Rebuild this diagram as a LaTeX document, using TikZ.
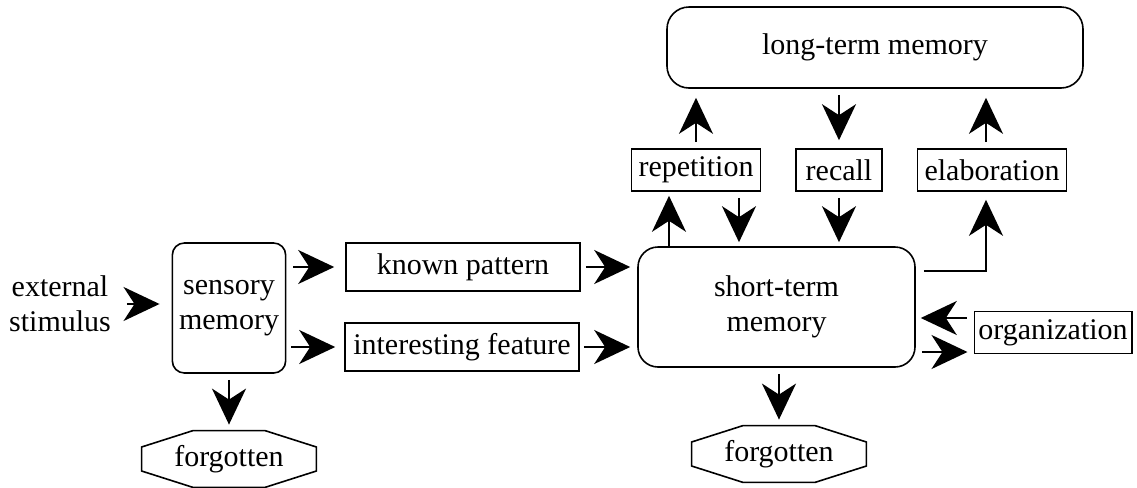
\documentclass[tikz,border=0pt]{standalone}
\usepackage{fontspec}
\setmainfont{Liberation Serif}
\usetikzlibrary{positioning,calc,arrows.meta}

\tikzset{
  every node/.style={font=\fontsize{15}{17.5}\selectfont},
  plain/.style={draw=black, line width=0.8pt, minimum height=21pt, inner xsep=3.5pt},
  roundbox/.style={draw=black, line width=0.8pt, rounded corners=6pt, align=center},
  forgot/.style={minimum width=87pt, minimum height=28pt, inner sep=0pt},
  flow/.style={-{Stealth[length=18pt,width=17pt,inset=5.5pt]}, line width=1pt, shorten <=3pt, shorten >=3pt},
}

% octagon drawn round a forgot node
\newcommand\forgotshape[1]{%
  \draw[line width=0.8pt] ([xshift=-18pt]#1.north) -- ([xshift=18pt]#1.north)
    -- ([yshift=6pt]#1.east) -- ([yshift=-6pt]#1.east)
    -- ([xshift=18pt]#1.south) -- ([xshift=-18pt]#1.south)
    -- ([yshift=-6pt]#1.west) -- ([yshift=6pt]#1.west) -- cycle;}

\begin{document}
\begin{tikzpicture}[x=0.5pt,y=-0.5pt]
	\useasboundingbox (0,0) rectangle (1137,488);

	\node[align=center] (ext) at (60,304) {external\\stimulus};
	\node[roundbox, minimum width=54pt, minimum height=65pt] (sens) at (229,308) {sensory\\memory};
	\node[plain, minimum width=117pt, minimum height=24pt] (known) at (463,267) {known pattern};
	\node[plain, minimum width=117pt, minimum height=24pt] (feat) at (462,347) {interesting feature};
	\node[roundbox, rounded corners=10pt, minimum width=138.5pt, minimum height=60pt] (stm) at (776.5,307) {short-term\\memory};
	\node[roundbox, rounded corners=11pt, minimum width=208pt, minimum height=40.5pt] (ltm) at (875,47.5) {long-term memory};
	\node[plain] (rep) at (696,170) {repetition};
	\node[plain, minimum width=43pt] (recall) at (839,170) {recall};
	\node[plain] (elab) at (992,170) {elaboration};
	\node[plain, inner xsep=2pt] (org) at (1053,332.5) {organization};
	\node[forgot] (lost1) at (229,459) {forgotten};
	\node[forgot] (lost2) at (779,454) {forgotten};
	\forgotshape{lost1}
	\forgotshape{lost2}

	% input side
	\draw[flow, shorten <=4.5pt, shorten >=6pt] (ext.east) -- (ext.east -| sens.west);
	\draw[flow, shorten <=3.5pt, shorten >=5.5pt] (sens.east |- known) -- (known.west);
	\draw[flow, shorten <=2.5pt, shorten >=4.5pt] (sens.east |- feat) -- (feat.west);
	\draw[flow, shorten <=2.5pt, shorten >=3.5pt] (known.east) -- (known.east -| stm.west);
	\draw[flow, shorten <=2pt, shorten >=3.5pt] (feat.east) -- (feat.east -| stm.west);
	\draw[flow] (sens.south) -- (lost1.north);
	\draw[flow] (stm.south -| lost2) -- (lost2.north);

	% between short-term and long-term memory
	\coordinate (repup) at ([xshift=-13.5pt]rep.south);
	\coordinate (repdown) at ([xshift=21.5pt]rep.south);
	\draw[flow, shorten <=0pt, shorten >=2pt] (repup |- stm.north) -- (repup);
	\draw[flow, shorten >=2pt] (repdown) -- (repdown |- stm.north);
	\draw[flow, shorten >=2pt] (recall.south) -- (recall.south |- stm.north);
	\draw[flow, shorten >=4.5pt] (rep.north) -- (rep.north |- ltm.south);
	\draw[flow, shorten >=4pt] (recall.north |- ltm.south) -- (recall.north);
	\draw[flow, shorten >=4.5pt] ([xshift=-3pt]elab.north) -- ([xshift=-3pt]elab.north |- ltm.south);
	\draw[flow, shorten <=4pt, shorten >=4pt] ([yshift=18pt]stm.east) -| ([xshift=-3pt]elab.south);

	% organization
	\coordinate (orgin) at ([yshift=-9.75pt]org.west);
	\coordinate (orgout) at ([yshift=7.25pt]org.west);
	\draw[flow, shorten <=3.5pt, shorten >=2.5pt] (orgout) -- (orgout -| stm.east);
	\draw[flow, shorten <=3pt, shorten >=3pt] (orgin -| stm.east) -- (orgin);
\end{tikzpicture}
\end{document}
